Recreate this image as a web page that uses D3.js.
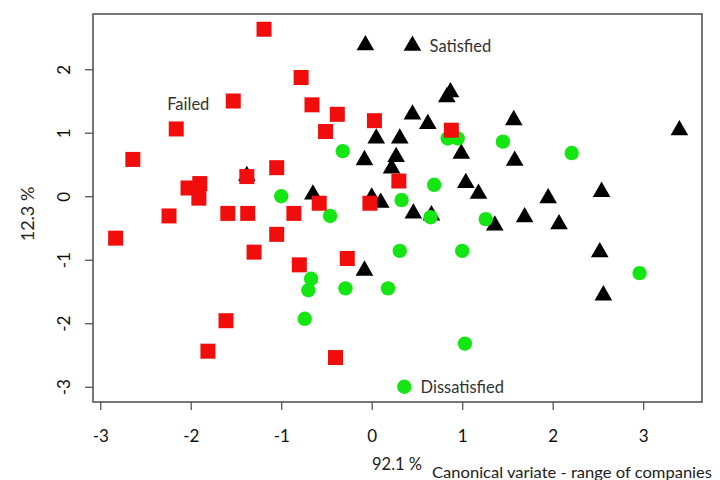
<!DOCTYPE html>
<html><head><meta charset="utf-8">
<script src="https://cdn.jsdelivr.net/npm/d3@7"></script>
<style>
html,body{margin:0;padding:0;background:#fff;}
svg text{font-family:Lato,"Open Sans",sans-serif;}
</style></head>
<body>
<svg id="chart" width="720" height="480"></svg>
<script>
// ---- data (canonical variate 1, canonical variate 2) ----
const failedX = [-1.19,-0.78,-1.53,-2.16,-2.64,-0.66,-0.38,-0.51,0.03,0.88,0.30,-1.05,-1.38,
  -2.03,-1.90,-1.91,-2.24,-1.59,-1.37,-0.86,-0.58,-1.05,-2.83,-1.30,-0.80,-0.27,-1.61,-1.81,-0.40,-0.02];
const failedY = [2.63,1.87,1.50,1.06,0.58,1.44,1.29,1.02,1.19,1.04,0.24,0.45,0.31,
  0.13,0.20,-0.03,-0.31,-0.27,-0.27,-0.27,-0.11,-0.60,-0.66,-0.88,-1.08,-0.98,-1.96,-2.44,-2.54,-0.11];

const satisfiedX = [-0.07,0.83,0.87,0.45,0.62,0.05,0.31,-0.08,0.27,0.22,0.99,1.57,1.58,3.40,1.04,
  1.18,1.95,2.54,0.10,-0.65,-1.38,0.00,0.46,0.66,1.36,1.69,2.07,2.52,2.56,-0.08];
const satisfiedY = [2.38,1.56,1.64,1.29,1.14,0.91,0.91,0.57,0.62,0.44,0.67,1.20,0.56,1.04,0.21,
  0.04,-0.03,0.07,-0.10,0.03,0.32,-0.02,-0.27,-0.30,-0.46,-0.33,-0.44,-0.88,-1.56,-1.17];

const dissatisfiedX = [-0.32,-1.00,-0.46,0.84,0.95,1.45,2.21,0.69,0.33,0.65,1.26,0.31,1.00,2.96,0.18,1.03,
  -0.67,-0.70,-0.29,-0.74];
const dissatisfiedY = [0.71,0.00,-0.31,0.91,0.91,0.86,0.68,0.18,-0.06,-0.33,-0.36,-0.86,-0.86,-1.21,-1.45,-2.32,
  -1.30,-1.48,-1.45,-1.93];

const xTicks = [-3,-2,-1,0,1,2,3];
const yTicks = [-3,-2,-1,0,1,2];

// group labels (text, marker, data position)
const labelNames = ["Failed","Satisfied","Dissatisfied"];
const labelMarkers = [null,"triangle","circle"];
const labelMarkerX = [null,0.45,0.36];
const labelTextX = [-2.26,0.64,0.54];
const labelY = [1.45,2.37,-3.00];

const xTitle = "Canonical variate - range of companies";
const xPct = "92.1 %";
const yPct = "12.3 %";

// ---- layout ----
const svg = d3.select("#chart");
const L = 93, R = 702, T = 14, B = 402;
const x = d3.scaleLinear().domain([-3.08, 3.65]).range([L, R]);
const y = d3.scaleLinear().domain([-3.24, 2.87]).range([B, T]);

const RED = "#f20d0d", GREEN = "#14e614", BLACK = "#000";

// axes
const xAxis = d3.axisBottom(x).tickValues(xTicks).tickSize(8).tickPadding(20)
  .tickFormat(d => d < 0 ? "-" + Math.abs(d) : d);
const gx = svg.append("g").attr("transform", `translate(0,${B})`).call(xAxis);
gx.select(".domain").remove();
gx.selectAll(".tick line").attr("stroke", "#555").attr("stroke-width", 1.3);
gx.selectAll(".tick text").attr("font-size", 17).attr("fill", "#111")
  .style("font-family", "Lato, sans-serif");

const yAxis = d3.axisLeft(y).tickValues(yTicks).tickSize(8).tickPadding(0)
  .tickFormat(d => d < 0 ? "-" + Math.abs(d) : d);
const gy = svg.append("g").attr("transform", `translate(${L},0)`).call(yAxis);
gy.select(".domain").remove();
gy.selectAll(".tick line").attr("stroke", "#555").attr("stroke-width", 1.3);
gy.selectAll(".tick text").attr("font-size", 17).attr("fill", "#111")
  .attr("x", 0).attr("dy", 0).attr("text-anchor", "middle")
  .attr("transform", "translate(-30,0) rotate(-90)")
  .attr("dominant-baseline", "central")
  .style("font-family", "Lato, sans-serif");

// box
svg.append("rect").attr("x", L).attr("y", T).attr("width", R - L).attr("height", B - T)
  .attr("fill", "none").attr("stroke", "#555").attr("stroke-width", 1.6);

const tri = d3.symbol().type(d3.symbolTriangle).size(135);
const sq = d3.symbol().type(d3.symbolSquare).size(225);

// satisfied (triangles)
svg.append("g").selectAll("path").data(d3.range(satisfiedX.length)).join("path")
  .attr("d", tri)
  .attr("transform", i => `translate(${x(satisfiedX[i])},${y(satisfiedY[i])})`)
  .attr("fill", BLACK);

// dissatisfied (circles)
svg.append("g").selectAll("circle").data(d3.range(dissatisfiedX.length)).join("circle")
  .attr("cx", i => x(dissatisfiedX[i])).attr("cy", i => y(dissatisfiedY[i]))
  .attr("r", 7.2).attr("fill", GREEN);

// failed (squares)
svg.append("g").selectAll("path").data(d3.range(failedX.length)).join("path")
  .attr("d", sq)
  .attr("transform", i => `translate(${x(failedX[i])},${y(failedY[i])})`)
  .attr("fill", RED);

// group labels
labelNames.forEach((name, i) => {
  if (labelMarkers[i] === "triangle") {
    svg.append("path").attr("d", tri)
      .attr("transform", `translate(${x(labelMarkerX[i])},${y(labelY[i])})`).attr("fill", BLACK);
  } else if (labelMarkers[i] === "circle") {
    svg.append("circle").attr("cx", x(labelMarkerX[i])).attr("cy", y(labelY[i]))
      .attr("r", 7.2).attr("fill", GREEN);
  }
  svg.append("text").attr("x", x(labelTextX[i])).attr("y", y(labelY[i]))
    .attr("dominant-baseline", "central").attr("font-size", 16.5).attr("fill", "#333")
    .text(name);
});

// axis titles
svg.append("text").attr("transform", "translate(27,214) rotate(-90)")
  .attr("text-anchor", "middle").attr("dominant-baseline", "central")
  .attr("font-size", 18).attr("fill", "#222").text(yPct);
svg.append("text").attr("x", 372).attr("y", 464).attr("dominant-baseline", "central")
  .attr("font-size", 16.5).attr("fill", "#222").text(xPct);
svg.append("text").attr("x", 432).attr("y", 471).attr("dominant-baseline", "central")
  .attr("font-size", 16).attr("textLength", 280).attr("lengthAdjust", "spacingAndGlyphs")
  .attr("fill", "#222").text(xTitle);
</script>
</body></html>
